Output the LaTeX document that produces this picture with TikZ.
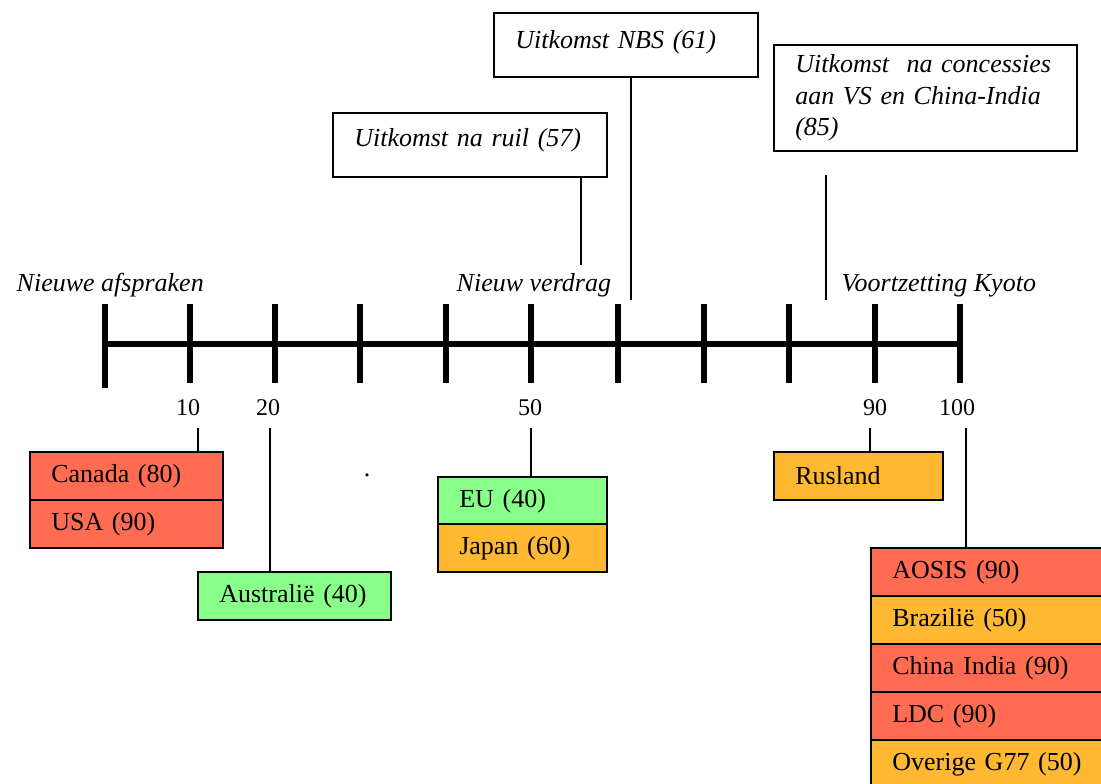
\documentclass[tikz,border=0pt]{standalone}
\usepackage{fontspec}
\setmainfont{Liberation Serif}
\definecolor{cred}{RGB}{255,108,82}
\definecolor{cgreen}{RGB}{136,255,136}
\definecolor{corange}{RGB}{255,184,50}
\begin{document}
\begin{tikzpicture}[x=0.75pt,y=-0.75pt,
 axis/.style={line width=4.5pt},
 link/.style={line width=1.3pt},
 cell/.style={draw, line width=1.5pt, anchor=north west, minimum height=36pt, inner xsep=16pt, inner ysep=0pt, align=left, font=\fontsize{19.5}{23}\selectfont},
 topbox/.style={draw, line width=1.5pt, anchor=north west, inner xsep=16pt, inner ysep=0pt, align=left, font=\fontsize{19.5}{23.7}\selectfont\itshape},
 era/.style={anchor=base west, font=\fontsize{19.5}{23}\selectfont\itshape},
 num/.style={anchor=base, font=\fontsize{18}{22}\selectfont},
]
\useasboundingbox (0,0) rectangle (1101,784);
\clip (0,0) rectangle (1101,784);

% axis
\draw[axis] (105,344) -- (960,344);
\draw[axis] (105,304) -- (105,388);
\foreach \x in {190,275,360,446,531,618,704,789,875,960}
  \draw[axis] (\x,304) -- (\x,383);

% era labels
\node[era] (afspr) at (12,292) {Nieuwe afspraken};
\node[era] (verdrag) at (452,292) {Nieuw verdrag};
\node[era] (kyoto) at (837,292) {Voortzetting Kyoto};

% numbers
\node[num] (n10) at (188,416) {10};
\node[num] (n20) at (268,416) {20};
\node[num] (n50) at (530,416) {50};
\node[num] (n90) at (875,416) {90};
\node[num] (n100) at (957,416) {100};

% top boxes
\node[topbox, text width=173.5pt, text height=25.5pt, text depth=22.5pt] (ruil) at (332,112) {Uitkomst na ruil (57)};
\node[topbox, text width=166pt, text height=27pt, text depth=21pt] (nbs) at (493,12) {Uitkomst NBS (61)};
\node[topbox, text width=195.25pt, minimum height=79.5pt] (conc) at (773,44) {Uitkomst\ \ na concessies\\aan VS en China-India\\(85)};

% bottom boxes
\node[cell, fill=cred, text width=112.75pt] (canada) at (29,451) {Canada (80)};
\node[cell, fill=cred, text width=112.75pt] (usa) at (29,499) {USA (90)};
\node[cell, fill=cgreen, text width=112.75pt] (austr) at (197,571) {Australië (40)};
\node[cell, fill=cgreen, text width=94.75pt] (eu) at (437,476) {EU (40)};
\node[cell, fill=corange, text width=94.75pt] (japan) at (437,523) {Japan (60)};
\node[cell, fill=corange, text width=94.75pt] (rus) at (773,451) {Rusland};
\node[cell, fill=cred, text width=163pt] (aosis) at (870,547) {AOSIS (90)};
\node[cell, fill=corange, text width=163pt] (braz) at (870,595) {Brazilië (50)};
\node[cell, fill=cred, text width=163pt] (china) at (870,643) {China India (90)};
\node[cell, fill=cred, text width=163pt] (ldc) at (870,691) {LDC (90)};
\node[cell, fill=corange, text width=163pt] (g77) at (870,739) {Overige G77 (50)};

\node[anchor=base, font=\fontsize{19.5}{23}\selectfont] (dot) at (367,477) {.};

% connectors
\coordinate (r57) at (581,265);
\coordinate (m61) at (631,300);
\coordinate (k85a) at (826,175);
\coordinate (k85b) at (826,300);
\draw[link] (ruil.south -| r57) -- (r57);
\draw[link] (nbs.south -| m61) -- (m61);
\draw[link] (k85a) -- (k85b);

\coordinate (c10) at (198,428);
\coordinate (c20) at (270,428);
\coordinate (c50) at (531,428);
\coordinate (c90) at (870,428);
\coordinate (c100) at (966,428);
\draw[link] (c10) -- (canada.north -| c10);
\draw[link] (c20) -- (austr.north -| c20);
\draw[link] (c50) -- (eu.north -| c50);
\draw[link] (c90) -- (rus.north -| c90);
\draw[link] (c100) -- (aosis.north -| c100);
\end{tikzpicture}
\end{document}
